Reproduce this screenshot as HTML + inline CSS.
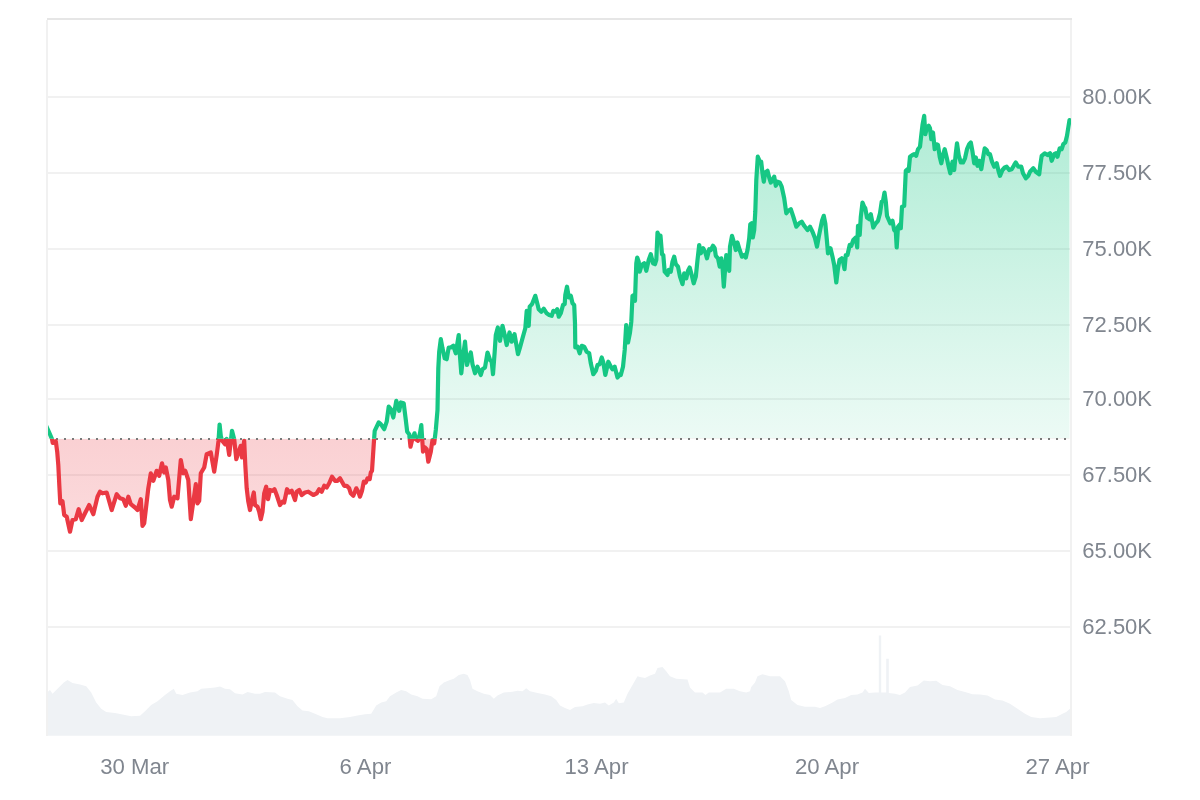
<!DOCTYPE html>
<html lang="en"><head><meta charset="utf-8"><title>Chart</title>
<style>
html,body{margin:0;padding:0;background:#fff;}
body{width:1200px;height:800px;overflow:hidden;font-family:"Liberation Sans",Arial,sans-serif;}
svg{display:block}
.yl{font-family:"Liberation Sans",Arial,sans-serif;font-size:22px;fill:#80868f;}
.xl{font-family:"Liberation Sans",Arial,sans-serif;font-size:22.2px;fill:#80868f;text-anchor:middle;}
</style></head><body>
<svg width="1200" height="800" viewBox="0 0 1200 800">
<defs>
<linearGradient id="gg" gradientUnits="userSpaceOnUse" x1="0" y1="115" x2="0" y2="438.8">
<stop offset="0" stop-color="#16c784" stop-opacity="0.34"/>
<stop offset="1" stop-color="#16c784" stop-opacity="0.08"/>
</linearGradient>
<linearGradient id="rg" gradientUnits="userSpaceOnUse" x1="0" y1="438.8" x2="0" y2="535">
<stop offset="0" stop-color="#ea3943" stop-opacity="0.235"/>
<stop offset="1" stop-color="#ea3943" stop-opacity="0.18"/>
</linearGradient>
<clipPath id="up"><rect x="48" y="48" width="1023" height="390.8"/></clipPath>
<clipPath id="dn"><rect x="48" y="438.8" width="1023" height="400"/></clipPath>
</defs>
<rect width="1200" height="800" fill="#fff"/>
<polygon points="47.0,735.8 47.0,692.5 47.0,692.5 50.0,690.0 52.5,693.8 58.8,687.5 63.8,682.5 67.5,680.0 72.5,683.0 80.0,684.5 86.2,686.2 91.2,692.5 96.2,702.5 101.2,708.8 106.2,712.0 115.0,713.0 122.5,714.5 131.2,716.2 140.0,715.8 145.0,711.2 151.2,705.0 157.5,701.2 165.0,695.0 170.0,691.2 173.8,688.8 176.2,693.8 182.5,695.0 190.0,692.5 197.5,691.2 201.2,688.8 210.0,688.0 215.0,687.5 220.0,686.5 225.0,688.8 230.0,689.2 235.0,693.2 242.5,694.5 247.5,692.0 255.0,693.8 260.0,693.8 265.0,692.0 275.0,692.5 280.0,696.2 287.5,698.8 292.5,700.0 297.5,706.2 302.5,710.5 308.8,711.2 315.0,713.8 322.5,717.0 327.5,718.2 340.0,718.2 350.0,717.0 357.5,715.5 365.0,714.2 371.2,713.8 376.2,705.5 381.2,702.5 386.2,701.2 390.0,696.2 396.2,692.5 401.2,690.0 406.2,691.2 411.2,694.5 417.5,696.2 422.5,698.8 431.2,699.2 436.2,696.2 439.5,686.2 443.8,682.5 450.0,680.0 453.8,678.8 458.8,675.0 463.8,673.8 467.5,675.0 470.0,680.0 472.5,688.8 477.5,691.2 483.8,693.8 490.0,695.0 493.8,698.8 497.5,695.5 503.8,692.5 512.5,691.8 517.5,690.8 522.5,691.2 526.2,688.2 530.0,691.2 537.5,693.0 545.0,694.5 551.2,696.2 556.2,700.0 560.0,705.5 565.0,708.0 570.0,710.0 575.0,707.0 582.5,706.2 587.5,704.5 593.8,703.0 600.0,703.8 605.0,702.5 608.8,705.5 613.8,702.5 616.2,698.8 618.8,703.2 623.8,702.5 627.5,693.8 632.5,685.0 637.5,676.2 640.0,677.0 645.0,678.0 650.0,675.5 655.0,673.8 657.5,668.0 662.5,667.0 666.2,671.2 670.0,676.2 676.2,678.8 687.5,679.5 690.0,687.5 695.0,692.5 702.5,692.5 705.5,695.0 708.8,692.5 720.0,692.5 726.2,688.8 733.8,688.8 740.0,691.2 746.2,692.5 750.0,691.2 751.2,687.0 755.0,682.5 757.5,676.2 762.5,674.2 770.0,676.2 780.0,676.2 785.0,681.2 788.8,691.2 791.2,700.0 797.5,705.0 805.0,706.8 815.0,706.8 820.0,708.0 825.0,706.2 832.5,702.5 837.5,699.5 845.0,698.0 851.2,695.0 857.5,694.5 862.5,692.5 865.0,688.8 868.8,693.0 875.0,692.5 878.8,692.5 878.8,635.5 881.2,635.5 881.2,692.5 886.2,692.5 886.2,658.8 888.8,658.8 888.8,693.0 895.0,693.8 900.0,695.0 905.0,692.5 910.0,687.0 917.5,685.5 923.8,680.5 930.0,681.2 936.2,680.8 942.5,685.0 950.0,686.2 957.5,690.0 965.0,692.0 972.5,694.2 980.0,694.5 987.5,695.5 995.0,699.5 1002.5,700.5 1010.0,703.8 1017.5,708.8 1025.0,713.8 1031.2,717.0 1040.0,718.2 1050.0,717.5 1056.2,717.0 1062.5,713.8 1066.2,712.0 1070.0,708.8 1070.5,708.8 1070.5,735.8" fill="#eff2f5"/>
<rect x="48" y="96" width="1022" height="2" fill="#f1f1f1"/>
<rect x="48" y="172" width="1022" height="2" fill="#f1f1f1"/>
<rect x="48" y="248" width="1022" height="2" fill="#f1f1f1"/>
<rect x="48" y="324" width="1022" height="2" fill="#f1f1f1"/>
<rect x="48" y="398" width="1022" height="2" fill="#f1f1f1"/>
<rect x="48" y="474" width="1022" height="2" fill="#f1f1f1"/>
<rect x="48" y="550" width="1022" height="2" fill="#f1f1f1"/>
<rect x="48" y="626" width="1022" height="2" fill="#f1f1f1"/>
<rect x="47" y="18" width="1025" height="2" fill="#e6e6e6"/>
<rect x="46" y="20" width="2" height="716" fill="#f1f1f1"/>
<rect x="1070" y="20" width="2" height="716" fill="#f1f1f1"/>
<polygon points="46.5,438.8 46.5,426.5 49.0,432.0 52.0,439.0 52.7,443.0 54.0,442.5 55.8,441.3 57.2,451.7 58.3,465.0 59.3,485.0 60.3,503.3 61.3,500.8 62.5,501.3 64.2,515.0 66.7,516.7 70.0,531.7 72.5,520.0 75.8,519.2 78.7,509.2 81.7,520.0 85.0,513.3 89.2,505.0 93.3,514.2 97.5,496.7 100.0,491.7 102.5,493.3 106.7,492.5 111.7,510.0 116.7,494.2 120.0,498.3 123.3,499.2 125.8,505.8 128.3,496.7 130.8,504.2 135.0,507.5 137.5,510.0 140.8,499.2 142.5,525.8 144.2,523.3 148.3,488.3 150.8,473.3 153.3,480.8 156.7,470.8 159.2,475.8 162.0,463.3 164.2,472.5 165.8,467.5 168.3,480.0 170.0,500.0 171.7,506.7 174.2,496.7 177.5,498.3 180.8,460.0 183.3,473.3 185.3,470.8 188.3,480.0 190.8,519.2 193.3,501.7 195.8,484.2 197.5,503.3 199.2,500.8 200.8,473.3 204.2,467.5 206.7,454.2 210.8,452.5 214.2,471.7 216.7,455.0 218.5,441.0 219.6,424.5 220.8,436.0 222.0,440.5 225.0,444.3 226.8,439.0 229.2,455.0 232.0,430.8 234.2,439.2 236.3,459.2 239.2,450.0 240.8,445.8 242.0,457.5 244.2,440.8 245.3,465.0 246.7,488.3 248.3,501.7 250.0,510.0 252.0,500.0 253.8,492.5 255.0,505.0 257.5,506.7 259.2,511.7 260.8,519.2 262.5,511.7 264.2,493.3 266.2,486.7 268.0,499.2 270.0,490.0 272.5,490.8 274.5,489.2 276.7,495.0 280.0,505.0 282.5,501.7 284.2,502.5 287.0,489.2 289.2,492.5 291.7,490.8 295.0,500.0 296.7,491.7 299.2,490.0 301.7,495.0 305.0,492.5 308.3,491.7 313.3,495.0 316.7,493.3 319.2,489.2 321.7,491.7 324.2,485.8 326.7,487.5 329.2,483.3 332.0,476.7 335.0,480.8 337.5,480.8 340.0,478.3 344.2,485.8 346.7,485.8 349.2,488.3 350.8,493.3 353.3,495.8 356.3,488.3 358.3,491.7 360.0,496.7 362.0,490.8 363.8,481.7 365.8,482.5 367.5,478.3 369.7,479.2 370.8,472.5 372.0,470.8 373.7,445.0 374.7,430.8 376.7,426.7 378.7,422.5 380.8,424.2 382.0,425.8 384.2,429.2 386.7,421.7 388.7,406.7 390.8,409.2 393.3,417.5 396.3,400.8 399.2,410.8 400.8,402.5 403.7,403.3 405.8,420.0 407.2,431.7 409.2,434.2 410.5,446.7 412.5,438.3 414.5,433.3 415.8,439.2 418.0,440.8 420.0,433.3 421.3,425.0 423.0,451.7 425.0,447.5 426.7,449.2 428.3,461.7 430.8,451.7 432.5,440.0 434.2,443.3 435.8,430.0 437.5,410.0 438.3,368.3 439.2,351.7 440.8,339.2 442.5,348.3 444.7,358.3 446.7,359.2 448.7,347.5 450.8,347.5 453.3,345.8 455.8,353.3 458.7,335.0 460.0,356.7 461.3,373.3 463.0,356.7 465.0,341.7 467.0,365.0 469.2,356.7 470.8,352.5 472.5,364.2 475.0,373.3 477.5,366.7 480.8,375.0 482.5,369.2 485.0,367.5 487.5,352.5 490.0,360.0 491.7,361.7 493.0,374.2 494.7,351.7 495.8,335.0 497.8,327.5 500.0,340.8 502.5,325.8 504.7,335.0 506.7,345.0 509.5,332.5 511.7,341.7 514.5,334.2 516.7,346.7 518.0,354.2 520.0,347.5 522.5,338.3 525.3,328.3 526.7,310.8 528.7,325.8 529.7,306.7 532.0,304.2 535.3,295.8 537.5,304.2 538.7,309.2 541.3,311.7 543.7,308.7 546.7,313.3 549.2,315.0 551.7,315.8 553.3,310.8 555.3,311.7 557.2,309.2 558.8,316.7 560.8,313.3 563.0,305.0 564.7,304.2 565.3,295.0 567.0,286.7 568.8,297.5 570.8,295.8 572.5,303.3 574.2,305.0 575.0,323.3 575.3,347.5 577.5,346.7 579.7,353.3 581.7,345.8 584.2,346.7 586.7,351.7 589.2,353.3 590.8,363.3 593.3,374.2 595.8,370.8 597.5,365.0 599.7,364.2 601.7,357.5 603.3,362.5 605.3,375.0 608.3,361.7 610.8,366.7 612.5,369.2 614.7,366.7 617.5,377.5 620.0,374.2 620.8,375.0 623.0,366.7 624.7,350.0 626.2,325.0 628.0,342.5 630.0,332.5 631.3,321.7 632.5,295.8 634.2,295.0 635.0,300.8 635.8,276.7 636.3,263.3 637.2,257.5 638.7,261.7 639.7,271.7 641.7,265.0 644.2,263.3 646.3,270.8 648.7,260.0 650.8,254.2 653.0,263.3 655.0,264.2 656.3,260.0 657.5,232.5 659.2,236.7 660.5,235.8 662.0,254.2 663.3,255.0 664.7,271.7 667.5,275.0 668.7,270.0 670.8,271.7 672.5,261.7 674.2,256.7 675.8,264.2 678.0,266.7 680.0,276.7 682.5,284.2 684.2,273.3 686.3,278.3 688.0,270.8 689.7,267.5 691.7,275.0 693.7,283.3 695.8,276.7 697.5,260.0 699.2,245.0 700.8,253.3 703.3,248.3 705.3,252.5 707.0,258.3 709.2,249.2 710.8,250.0 713.0,245.8 714.7,248.3 715.8,255.8 718.0,258.3 719.7,266.7 721.3,258.3 722.5,266.7 723.8,286.7 725.3,266.7 726.3,255.0 728.0,260.0 729.2,270.8 730.0,246.7 732.0,235.8 734.2,243.3 735.8,250.0 737.5,242.5 739.7,250.0 742.0,256.7 744.2,255.0 745.8,257.5 747.5,250.0 749.2,238.3 750.3,224.2 751.7,223.3 752.8,237.5 754.2,230.0 755.3,211.7 756.3,180.0 757.8,156.7 759.5,160.8 761.2,161.7 762.5,173.3 763.8,181.7 765.3,172.5 767.5,170.8 769.2,177.5 770.8,182.5 773.0,179.2 774.2,176.7 775.8,185.8 777.5,181.7 779.7,182.5 781.7,186.7 784.2,198.3 786.3,213.3 788.3,210.8 790.8,209.2 793.3,216.7 796.3,226.7 799.2,223.3 801.7,221.7 804.2,225.8 807.5,230.0 810.0,226.7 812.5,231.7 815.0,238.3 817.0,246.7 818.8,236.7 820.3,229.2 822.0,220.8 823.8,215.8 825.3,223.3 826.7,238.3 828.0,253.3 830.5,248.3 832.5,256.7 834.2,265.0 836.3,282.5 838.0,268.3 839.5,260.0 841.7,258.3 843.0,261.7 844.5,269.2 845.8,255.0 847.5,255.0 849.7,245.0 851.3,245.8 853.3,240.0 855.8,237.5 857.2,247.5 858.0,225.8 859.7,235.0 860.8,216.7 862.5,202.5 864.2,206.7 865.3,208.3 867.0,217.5 869.2,219.2 870.8,214.2 873.3,227.5 875.8,223.3 878.0,220.8 880.0,213.3 881.7,201.7 883.0,200.8 884.5,192.5 885.8,201.7 887.0,215.8 889.2,220.8 890.3,223.3 892.5,220.8 894.2,230.0 895.8,231.7 896.7,247.5 898.0,226.7 900.0,224.2 900.8,228.3 902.0,206.7 904.2,205.8 905.8,170.8 907.5,169.2 908.7,170.8 910.0,156.7 912.5,155.0 914.2,154.2 916.2,155.8 918.0,149.2 920.0,146.7 921.3,135.0 922.5,125.0 924.2,115.8 925.3,134.2 927.0,127.5 928.7,125.8 930.0,128.3 931.3,139.2 933.0,132.5 934.7,149.2 936.3,144.2 938.0,145.0 939.7,156.7 941.3,163.3 943.0,155.0 944.7,149.2 946.7,157.5 948.7,166.7 950.3,173.3 952.5,161.7 954.2,170.0 955.8,153.3 957.0,143.3 958.7,155.0 960.8,162.5 963.0,162.5 965.0,158.3 967.0,149.2 969.2,144.2 970.8,142.5 972.5,151.7 974.2,163.3 975.8,157.5 977.5,165.8 979.2,160.8 981.3,169.2 983.0,158.3 984.7,148.3 986.7,150.0 988.3,154.2 990.0,154.2 992.0,161.7 994.2,166.7 996.7,163.3 998.7,171.7 1000.0,175.8 1002.5,170.0 1004.7,167.5 1006.7,166.7 1009.2,170.0 1011.7,169.2 1014.2,165.0 1015.8,162.5 1018.3,166.7 1021.3,166.7 1023.0,173.3 1025.8,178.3 1028.3,175.8 1030.0,171.7 1033.3,168.3 1035.8,171.7 1039.2,174.2 1040.3,165.0 1041.7,155.8 1044.7,153.3 1047.5,155.0 1050.0,153.3 1051.7,160.8 1054.2,154.2 1055.8,153.3 1057.5,156.7 1059.7,148.3 1061.7,149.2 1063.3,144.2 1065.3,142.5 1067.0,135.8 1068.3,127.5 1069.5,120.0 1069.5,438.8" fill="url(#gg)" clip-path="url(#up)"/>
<polygon points="46.5,438.8 46.5,426.5 49.0,432.0 52.0,439.0 52.7,443.0 54.0,442.5 55.8,441.3 57.2,451.7 58.3,465.0 59.3,485.0 60.3,503.3 61.3,500.8 62.5,501.3 64.2,515.0 66.7,516.7 70.0,531.7 72.5,520.0 75.8,519.2 78.7,509.2 81.7,520.0 85.0,513.3 89.2,505.0 93.3,514.2 97.5,496.7 100.0,491.7 102.5,493.3 106.7,492.5 111.7,510.0 116.7,494.2 120.0,498.3 123.3,499.2 125.8,505.8 128.3,496.7 130.8,504.2 135.0,507.5 137.5,510.0 140.8,499.2 142.5,525.8 144.2,523.3 148.3,488.3 150.8,473.3 153.3,480.8 156.7,470.8 159.2,475.8 162.0,463.3 164.2,472.5 165.8,467.5 168.3,480.0 170.0,500.0 171.7,506.7 174.2,496.7 177.5,498.3 180.8,460.0 183.3,473.3 185.3,470.8 188.3,480.0 190.8,519.2 193.3,501.7 195.8,484.2 197.5,503.3 199.2,500.8 200.8,473.3 204.2,467.5 206.7,454.2 210.8,452.5 214.2,471.7 216.7,455.0 218.5,441.0 219.6,424.5 220.8,436.0 222.0,440.5 225.0,444.3 226.8,439.0 229.2,455.0 232.0,430.8 234.2,439.2 236.3,459.2 239.2,450.0 240.8,445.8 242.0,457.5 244.2,440.8 245.3,465.0 246.7,488.3 248.3,501.7 250.0,510.0 252.0,500.0 253.8,492.5 255.0,505.0 257.5,506.7 259.2,511.7 260.8,519.2 262.5,511.7 264.2,493.3 266.2,486.7 268.0,499.2 270.0,490.0 272.5,490.8 274.5,489.2 276.7,495.0 280.0,505.0 282.5,501.7 284.2,502.5 287.0,489.2 289.2,492.5 291.7,490.8 295.0,500.0 296.7,491.7 299.2,490.0 301.7,495.0 305.0,492.5 308.3,491.7 313.3,495.0 316.7,493.3 319.2,489.2 321.7,491.7 324.2,485.8 326.7,487.5 329.2,483.3 332.0,476.7 335.0,480.8 337.5,480.8 340.0,478.3 344.2,485.8 346.7,485.8 349.2,488.3 350.8,493.3 353.3,495.8 356.3,488.3 358.3,491.7 360.0,496.7 362.0,490.8 363.8,481.7 365.8,482.5 367.5,478.3 369.7,479.2 370.8,472.5 372.0,470.8 373.7,445.0 374.7,430.8 376.7,426.7 378.7,422.5 380.8,424.2 382.0,425.8 384.2,429.2 386.7,421.7 388.7,406.7 390.8,409.2 393.3,417.5 396.3,400.8 399.2,410.8 400.8,402.5 403.7,403.3 405.8,420.0 407.2,431.7 409.2,434.2 410.5,446.7 412.5,438.3 414.5,433.3 415.8,439.2 418.0,440.8 420.0,433.3 421.3,425.0 423.0,451.7 425.0,447.5 426.7,449.2 428.3,461.7 430.8,451.7 432.5,440.0 434.2,443.3 435.8,430.0 437.5,410.0 438.3,368.3 439.2,351.7 440.8,339.2 442.5,348.3 444.7,358.3 446.7,359.2 448.7,347.5 450.8,347.5 453.3,345.8 455.8,353.3 458.7,335.0 460.0,356.7 461.3,373.3 463.0,356.7 465.0,341.7 467.0,365.0 469.2,356.7 470.8,352.5 472.5,364.2 475.0,373.3 477.5,366.7 480.8,375.0 482.5,369.2 485.0,367.5 487.5,352.5 490.0,360.0 491.7,361.7 493.0,374.2 494.7,351.7 495.8,335.0 497.8,327.5 500.0,340.8 502.5,325.8 504.7,335.0 506.7,345.0 509.5,332.5 511.7,341.7 514.5,334.2 516.7,346.7 518.0,354.2 520.0,347.5 522.5,338.3 525.3,328.3 526.7,310.8 528.7,325.8 529.7,306.7 532.0,304.2 535.3,295.8 537.5,304.2 538.7,309.2 541.3,311.7 543.7,308.7 546.7,313.3 549.2,315.0 551.7,315.8 553.3,310.8 555.3,311.7 557.2,309.2 558.8,316.7 560.8,313.3 563.0,305.0 564.7,304.2 565.3,295.0 567.0,286.7 568.8,297.5 570.8,295.8 572.5,303.3 574.2,305.0 575.0,323.3 575.3,347.5 577.5,346.7 579.7,353.3 581.7,345.8 584.2,346.7 586.7,351.7 589.2,353.3 590.8,363.3 593.3,374.2 595.8,370.8 597.5,365.0 599.7,364.2 601.7,357.5 603.3,362.5 605.3,375.0 608.3,361.7 610.8,366.7 612.5,369.2 614.7,366.7 617.5,377.5 620.0,374.2 620.8,375.0 623.0,366.7 624.7,350.0 626.2,325.0 628.0,342.5 630.0,332.5 631.3,321.7 632.5,295.8 634.2,295.0 635.0,300.8 635.8,276.7 636.3,263.3 637.2,257.5 638.7,261.7 639.7,271.7 641.7,265.0 644.2,263.3 646.3,270.8 648.7,260.0 650.8,254.2 653.0,263.3 655.0,264.2 656.3,260.0 657.5,232.5 659.2,236.7 660.5,235.8 662.0,254.2 663.3,255.0 664.7,271.7 667.5,275.0 668.7,270.0 670.8,271.7 672.5,261.7 674.2,256.7 675.8,264.2 678.0,266.7 680.0,276.7 682.5,284.2 684.2,273.3 686.3,278.3 688.0,270.8 689.7,267.5 691.7,275.0 693.7,283.3 695.8,276.7 697.5,260.0 699.2,245.0 700.8,253.3 703.3,248.3 705.3,252.5 707.0,258.3 709.2,249.2 710.8,250.0 713.0,245.8 714.7,248.3 715.8,255.8 718.0,258.3 719.7,266.7 721.3,258.3 722.5,266.7 723.8,286.7 725.3,266.7 726.3,255.0 728.0,260.0 729.2,270.8 730.0,246.7 732.0,235.8 734.2,243.3 735.8,250.0 737.5,242.5 739.7,250.0 742.0,256.7 744.2,255.0 745.8,257.5 747.5,250.0 749.2,238.3 750.3,224.2 751.7,223.3 752.8,237.5 754.2,230.0 755.3,211.7 756.3,180.0 757.8,156.7 759.5,160.8 761.2,161.7 762.5,173.3 763.8,181.7 765.3,172.5 767.5,170.8 769.2,177.5 770.8,182.5 773.0,179.2 774.2,176.7 775.8,185.8 777.5,181.7 779.7,182.5 781.7,186.7 784.2,198.3 786.3,213.3 788.3,210.8 790.8,209.2 793.3,216.7 796.3,226.7 799.2,223.3 801.7,221.7 804.2,225.8 807.5,230.0 810.0,226.7 812.5,231.7 815.0,238.3 817.0,246.7 818.8,236.7 820.3,229.2 822.0,220.8 823.8,215.8 825.3,223.3 826.7,238.3 828.0,253.3 830.5,248.3 832.5,256.7 834.2,265.0 836.3,282.5 838.0,268.3 839.5,260.0 841.7,258.3 843.0,261.7 844.5,269.2 845.8,255.0 847.5,255.0 849.7,245.0 851.3,245.8 853.3,240.0 855.8,237.5 857.2,247.5 858.0,225.8 859.7,235.0 860.8,216.7 862.5,202.5 864.2,206.7 865.3,208.3 867.0,217.5 869.2,219.2 870.8,214.2 873.3,227.5 875.8,223.3 878.0,220.8 880.0,213.3 881.7,201.7 883.0,200.8 884.5,192.5 885.8,201.7 887.0,215.8 889.2,220.8 890.3,223.3 892.5,220.8 894.2,230.0 895.8,231.7 896.7,247.5 898.0,226.7 900.0,224.2 900.8,228.3 902.0,206.7 904.2,205.8 905.8,170.8 907.5,169.2 908.7,170.8 910.0,156.7 912.5,155.0 914.2,154.2 916.2,155.8 918.0,149.2 920.0,146.7 921.3,135.0 922.5,125.0 924.2,115.8 925.3,134.2 927.0,127.5 928.7,125.8 930.0,128.3 931.3,139.2 933.0,132.5 934.7,149.2 936.3,144.2 938.0,145.0 939.7,156.7 941.3,163.3 943.0,155.0 944.7,149.2 946.7,157.5 948.7,166.7 950.3,173.3 952.5,161.7 954.2,170.0 955.8,153.3 957.0,143.3 958.7,155.0 960.8,162.5 963.0,162.5 965.0,158.3 967.0,149.2 969.2,144.2 970.8,142.5 972.5,151.7 974.2,163.3 975.8,157.5 977.5,165.8 979.2,160.8 981.3,169.2 983.0,158.3 984.7,148.3 986.7,150.0 988.3,154.2 990.0,154.2 992.0,161.7 994.2,166.7 996.7,163.3 998.7,171.7 1000.0,175.8 1002.5,170.0 1004.7,167.5 1006.7,166.7 1009.2,170.0 1011.7,169.2 1014.2,165.0 1015.8,162.5 1018.3,166.7 1021.3,166.7 1023.0,173.3 1025.8,178.3 1028.3,175.8 1030.0,171.7 1033.3,168.3 1035.8,171.7 1039.2,174.2 1040.3,165.0 1041.7,155.8 1044.7,153.3 1047.5,155.0 1050.0,153.3 1051.7,160.8 1054.2,154.2 1055.8,153.3 1057.5,156.7 1059.7,148.3 1061.7,149.2 1063.3,144.2 1065.3,142.5 1067.0,135.8 1068.3,127.5 1069.5,120.0 1069.5,438.8" fill="url(#rg)" clip-path="url(#dn)"/>
<line x1="56" x2="1070.0" y1="439" y2="439" stroke="#7a7a7a" stroke-width="2" stroke-dasharray="2 6"/>
<polyline points="46.5,426.5 49.0,432.0 52.0,439.0 52.7,443.0 54.0,442.5 55.8,441.3 57.2,451.7 58.3,465.0 59.3,485.0 60.3,503.3 61.3,500.8 62.5,501.3 64.2,515.0 66.7,516.7 70.0,531.7 72.5,520.0 75.8,519.2 78.7,509.2 81.7,520.0 85.0,513.3 89.2,505.0 93.3,514.2 97.5,496.7 100.0,491.7 102.5,493.3 106.7,492.5 111.7,510.0 116.7,494.2 120.0,498.3 123.3,499.2 125.8,505.8 128.3,496.7 130.8,504.2 135.0,507.5 137.5,510.0 140.8,499.2 142.5,525.8 144.2,523.3 148.3,488.3 150.8,473.3 153.3,480.8 156.7,470.8 159.2,475.8 162.0,463.3 164.2,472.5 165.8,467.5 168.3,480.0 170.0,500.0 171.7,506.7 174.2,496.7 177.5,498.3 180.8,460.0 183.3,473.3 185.3,470.8 188.3,480.0 190.8,519.2 193.3,501.7 195.8,484.2 197.5,503.3 199.2,500.8 200.8,473.3 204.2,467.5 206.7,454.2 210.8,452.5 214.2,471.7 216.7,455.0 218.5,441.0 219.6,424.5 220.8,436.0 222.0,440.5 225.0,444.3 226.8,439.0 229.2,455.0 232.0,430.8 234.2,439.2 236.3,459.2 239.2,450.0 240.8,445.8 242.0,457.5 244.2,440.8 245.3,465.0 246.7,488.3 248.3,501.7 250.0,510.0 252.0,500.0 253.8,492.5 255.0,505.0 257.5,506.7 259.2,511.7 260.8,519.2 262.5,511.7 264.2,493.3 266.2,486.7 268.0,499.2 270.0,490.0 272.5,490.8 274.5,489.2 276.7,495.0 280.0,505.0 282.5,501.7 284.2,502.5 287.0,489.2 289.2,492.5 291.7,490.8 295.0,500.0 296.7,491.7 299.2,490.0 301.7,495.0 305.0,492.5 308.3,491.7 313.3,495.0 316.7,493.3 319.2,489.2 321.7,491.7 324.2,485.8 326.7,487.5 329.2,483.3 332.0,476.7 335.0,480.8 337.5,480.8 340.0,478.3 344.2,485.8 346.7,485.8 349.2,488.3 350.8,493.3 353.3,495.8 356.3,488.3 358.3,491.7 360.0,496.7 362.0,490.8 363.8,481.7 365.8,482.5 367.5,478.3 369.7,479.2 370.8,472.5 372.0,470.8 373.7,445.0 374.7,430.8 376.7,426.7 378.7,422.5 380.8,424.2 382.0,425.8 384.2,429.2 386.7,421.7 388.7,406.7 390.8,409.2 393.3,417.5 396.3,400.8 399.2,410.8 400.8,402.5 403.7,403.3 405.8,420.0 407.2,431.7 409.2,434.2 410.5,446.7 412.5,438.3 414.5,433.3 415.8,439.2 418.0,440.8 420.0,433.3 421.3,425.0 423.0,451.7 425.0,447.5 426.7,449.2 428.3,461.7 430.8,451.7 432.5,440.0 434.2,443.3 435.8,430.0 437.5,410.0 438.3,368.3 439.2,351.7 440.8,339.2 442.5,348.3 444.7,358.3 446.7,359.2 448.7,347.5 450.8,347.5 453.3,345.8 455.8,353.3 458.7,335.0 460.0,356.7 461.3,373.3 463.0,356.7 465.0,341.7 467.0,365.0 469.2,356.7 470.8,352.5 472.5,364.2 475.0,373.3 477.5,366.7 480.8,375.0 482.5,369.2 485.0,367.5 487.5,352.5 490.0,360.0 491.7,361.7 493.0,374.2 494.7,351.7 495.8,335.0 497.8,327.5 500.0,340.8 502.5,325.8 504.7,335.0 506.7,345.0 509.5,332.5 511.7,341.7 514.5,334.2 516.7,346.7 518.0,354.2 520.0,347.5 522.5,338.3 525.3,328.3 526.7,310.8 528.7,325.8 529.7,306.7 532.0,304.2 535.3,295.8 537.5,304.2 538.7,309.2 541.3,311.7 543.7,308.7 546.7,313.3 549.2,315.0 551.7,315.8 553.3,310.8 555.3,311.7 557.2,309.2 558.8,316.7 560.8,313.3 563.0,305.0 564.7,304.2 565.3,295.0 567.0,286.7 568.8,297.5 570.8,295.8 572.5,303.3 574.2,305.0 575.0,323.3 575.3,347.5 577.5,346.7 579.7,353.3 581.7,345.8 584.2,346.7 586.7,351.7 589.2,353.3 590.8,363.3 593.3,374.2 595.8,370.8 597.5,365.0 599.7,364.2 601.7,357.5 603.3,362.5 605.3,375.0 608.3,361.7 610.8,366.7 612.5,369.2 614.7,366.7 617.5,377.5 620.0,374.2 620.8,375.0 623.0,366.7 624.7,350.0 626.2,325.0 628.0,342.5 630.0,332.5 631.3,321.7 632.5,295.8 634.2,295.0 635.0,300.8 635.8,276.7 636.3,263.3 637.2,257.5 638.7,261.7 639.7,271.7 641.7,265.0 644.2,263.3 646.3,270.8 648.7,260.0 650.8,254.2 653.0,263.3 655.0,264.2 656.3,260.0 657.5,232.5 659.2,236.7 660.5,235.8 662.0,254.2 663.3,255.0 664.7,271.7 667.5,275.0 668.7,270.0 670.8,271.7 672.5,261.7 674.2,256.7 675.8,264.2 678.0,266.7 680.0,276.7 682.5,284.2 684.2,273.3 686.3,278.3 688.0,270.8 689.7,267.5 691.7,275.0 693.7,283.3 695.8,276.7 697.5,260.0 699.2,245.0 700.8,253.3 703.3,248.3 705.3,252.5 707.0,258.3 709.2,249.2 710.8,250.0 713.0,245.8 714.7,248.3 715.8,255.8 718.0,258.3 719.7,266.7 721.3,258.3 722.5,266.7 723.8,286.7 725.3,266.7 726.3,255.0 728.0,260.0 729.2,270.8 730.0,246.7 732.0,235.8 734.2,243.3 735.8,250.0 737.5,242.5 739.7,250.0 742.0,256.7 744.2,255.0 745.8,257.5 747.5,250.0 749.2,238.3 750.3,224.2 751.7,223.3 752.8,237.5 754.2,230.0 755.3,211.7 756.3,180.0 757.8,156.7 759.5,160.8 761.2,161.7 762.5,173.3 763.8,181.7 765.3,172.5 767.5,170.8 769.2,177.5 770.8,182.5 773.0,179.2 774.2,176.7 775.8,185.8 777.5,181.7 779.7,182.5 781.7,186.7 784.2,198.3 786.3,213.3 788.3,210.8 790.8,209.2 793.3,216.7 796.3,226.7 799.2,223.3 801.7,221.7 804.2,225.8 807.5,230.0 810.0,226.7 812.5,231.7 815.0,238.3 817.0,246.7 818.8,236.7 820.3,229.2 822.0,220.8 823.8,215.8 825.3,223.3 826.7,238.3 828.0,253.3 830.5,248.3 832.5,256.7 834.2,265.0 836.3,282.5 838.0,268.3 839.5,260.0 841.7,258.3 843.0,261.7 844.5,269.2 845.8,255.0 847.5,255.0 849.7,245.0 851.3,245.8 853.3,240.0 855.8,237.5 857.2,247.5 858.0,225.8 859.7,235.0 860.8,216.7 862.5,202.5 864.2,206.7 865.3,208.3 867.0,217.5 869.2,219.2 870.8,214.2 873.3,227.5 875.8,223.3 878.0,220.8 880.0,213.3 881.7,201.7 883.0,200.8 884.5,192.5 885.8,201.7 887.0,215.8 889.2,220.8 890.3,223.3 892.5,220.8 894.2,230.0 895.8,231.7 896.7,247.5 898.0,226.7 900.0,224.2 900.8,228.3 902.0,206.7 904.2,205.8 905.8,170.8 907.5,169.2 908.7,170.8 910.0,156.7 912.5,155.0 914.2,154.2 916.2,155.8 918.0,149.2 920.0,146.7 921.3,135.0 922.5,125.0 924.2,115.8 925.3,134.2 927.0,127.5 928.7,125.8 930.0,128.3 931.3,139.2 933.0,132.5 934.7,149.2 936.3,144.2 938.0,145.0 939.7,156.7 941.3,163.3 943.0,155.0 944.7,149.2 946.7,157.5 948.7,166.7 950.3,173.3 952.5,161.7 954.2,170.0 955.8,153.3 957.0,143.3 958.7,155.0 960.8,162.5 963.0,162.5 965.0,158.3 967.0,149.2 969.2,144.2 970.8,142.5 972.5,151.7 974.2,163.3 975.8,157.5 977.5,165.8 979.2,160.8 981.3,169.2 983.0,158.3 984.7,148.3 986.7,150.0 988.3,154.2 990.0,154.2 992.0,161.7 994.2,166.7 996.7,163.3 998.7,171.7 1000.0,175.8 1002.5,170.0 1004.7,167.5 1006.7,166.7 1009.2,170.0 1011.7,169.2 1014.2,165.0 1015.8,162.5 1018.3,166.7 1021.3,166.7 1023.0,173.3 1025.8,178.3 1028.3,175.8 1030.0,171.7 1033.3,168.3 1035.8,171.7 1039.2,174.2 1040.3,165.0 1041.7,155.8 1044.7,153.3 1047.5,155.0 1050.0,153.3 1051.7,160.8 1054.2,154.2 1055.8,153.3 1057.5,156.7 1059.7,148.3 1061.7,149.2 1063.3,144.2 1065.3,142.5 1067.0,135.8 1068.3,127.5 1069.5,120.0" fill="none" stroke="#ea3943" stroke-width="4.2" stroke-linejoin="round" stroke-linecap="round" clip-path="url(#dn)"/>
<polyline points="46.5,426.5 49.0,432.0 52.0,439.0 52.7,443.0 54.0,442.5 55.8,441.3 57.2,451.7 58.3,465.0 59.3,485.0 60.3,503.3 61.3,500.8 62.5,501.3 64.2,515.0 66.7,516.7 70.0,531.7 72.5,520.0 75.8,519.2 78.7,509.2 81.7,520.0 85.0,513.3 89.2,505.0 93.3,514.2 97.5,496.7 100.0,491.7 102.5,493.3 106.7,492.5 111.7,510.0 116.7,494.2 120.0,498.3 123.3,499.2 125.8,505.8 128.3,496.7 130.8,504.2 135.0,507.5 137.5,510.0 140.8,499.2 142.5,525.8 144.2,523.3 148.3,488.3 150.8,473.3 153.3,480.8 156.7,470.8 159.2,475.8 162.0,463.3 164.2,472.5 165.8,467.5 168.3,480.0 170.0,500.0 171.7,506.7 174.2,496.7 177.5,498.3 180.8,460.0 183.3,473.3 185.3,470.8 188.3,480.0 190.8,519.2 193.3,501.7 195.8,484.2 197.5,503.3 199.2,500.8 200.8,473.3 204.2,467.5 206.7,454.2 210.8,452.5 214.2,471.7 216.7,455.0 218.5,441.0 219.6,424.5 220.8,436.0 222.0,440.5 225.0,444.3 226.8,439.0 229.2,455.0 232.0,430.8 234.2,439.2 236.3,459.2 239.2,450.0 240.8,445.8 242.0,457.5 244.2,440.8 245.3,465.0 246.7,488.3 248.3,501.7 250.0,510.0 252.0,500.0 253.8,492.5 255.0,505.0 257.5,506.7 259.2,511.7 260.8,519.2 262.5,511.7 264.2,493.3 266.2,486.7 268.0,499.2 270.0,490.0 272.5,490.8 274.5,489.2 276.7,495.0 280.0,505.0 282.5,501.7 284.2,502.5 287.0,489.2 289.2,492.5 291.7,490.8 295.0,500.0 296.7,491.7 299.2,490.0 301.7,495.0 305.0,492.5 308.3,491.7 313.3,495.0 316.7,493.3 319.2,489.2 321.7,491.7 324.2,485.8 326.7,487.5 329.2,483.3 332.0,476.7 335.0,480.8 337.5,480.8 340.0,478.3 344.2,485.8 346.7,485.8 349.2,488.3 350.8,493.3 353.3,495.8 356.3,488.3 358.3,491.7 360.0,496.7 362.0,490.8 363.8,481.7 365.8,482.5 367.5,478.3 369.7,479.2 370.8,472.5 372.0,470.8 373.7,445.0 374.7,430.8 376.7,426.7 378.7,422.5 380.8,424.2 382.0,425.8 384.2,429.2 386.7,421.7 388.7,406.7 390.8,409.2 393.3,417.5 396.3,400.8 399.2,410.8 400.8,402.5 403.7,403.3 405.8,420.0 407.2,431.7 409.2,434.2 410.5,446.7 412.5,438.3 414.5,433.3 415.8,439.2 418.0,440.8 420.0,433.3 421.3,425.0 423.0,451.7 425.0,447.5 426.7,449.2 428.3,461.7 430.8,451.7 432.5,440.0 434.2,443.3 435.8,430.0 437.5,410.0 438.3,368.3 439.2,351.7 440.8,339.2 442.5,348.3 444.7,358.3 446.7,359.2 448.7,347.5 450.8,347.5 453.3,345.8 455.8,353.3 458.7,335.0 460.0,356.7 461.3,373.3 463.0,356.7 465.0,341.7 467.0,365.0 469.2,356.7 470.8,352.5 472.5,364.2 475.0,373.3 477.5,366.7 480.8,375.0 482.5,369.2 485.0,367.5 487.5,352.5 490.0,360.0 491.7,361.7 493.0,374.2 494.7,351.7 495.8,335.0 497.8,327.5 500.0,340.8 502.5,325.8 504.7,335.0 506.7,345.0 509.5,332.5 511.7,341.7 514.5,334.2 516.7,346.7 518.0,354.2 520.0,347.5 522.5,338.3 525.3,328.3 526.7,310.8 528.7,325.8 529.7,306.7 532.0,304.2 535.3,295.8 537.5,304.2 538.7,309.2 541.3,311.7 543.7,308.7 546.7,313.3 549.2,315.0 551.7,315.8 553.3,310.8 555.3,311.7 557.2,309.2 558.8,316.7 560.8,313.3 563.0,305.0 564.7,304.2 565.3,295.0 567.0,286.7 568.8,297.5 570.8,295.8 572.5,303.3 574.2,305.0 575.0,323.3 575.3,347.5 577.5,346.7 579.7,353.3 581.7,345.8 584.2,346.7 586.7,351.7 589.2,353.3 590.8,363.3 593.3,374.2 595.8,370.8 597.5,365.0 599.7,364.2 601.7,357.5 603.3,362.5 605.3,375.0 608.3,361.7 610.8,366.7 612.5,369.2 614.7,366.7 617.5,377.5 620.0,374.2 620.8,375.0 623.0,366.7 624.7,350.0 626.2,325.0 628.0,342.5 630.0,332.5 631.3,321.7 632.5,295.8 634.2,295.0 635.0,300.8 635.8,276.7 636.3,263.3 637.2,257.5 638.7,261.7 639.7,271.7 641.7,265.0 644.2,263.3 646.3,270.8 648.7,260.0 650.8,254.2 653.0,263.3 655.0,264.2 656.3,260.0 657.5,232.5 659.2,236.7 660.5,235.8 662.0,254.2 663.3,255.0 664.7,271.7 667.5,275.0 668.7,270.0 670.8,271.7 672.5,261.7 674.2,256.7 675.8,264.2 678.0,266.7 680.0,276.7 682.5,284.2 684.2,273.3 686.3,278.3 688.0,270.8 689.7,267.5 691.7,275.0 693.7,283.3 695.8,276.7 697.5,260.0 699.2,245.0 700.8,253.3 703.3,248.3 705.3,252.5 707.0,258.3 709.2,249.2 710.8,250.0 713.0,245.8 714.7,248.3 715.8,255.8 718.0,258.3 719.7,266.7 721.3,258.3 722.5,266.7 723.8,286.7 725.3,266.7 726.3,255.0 728.0,260.0 729.2,270.8 730.0,246.7 732.0,235.8 734.2,243.3 735.8,250.0 737.5,242.5 739.7,250.0 742.0,256.7 744.2,255.0 745.8,257.5 747.5,250.0 749.2,238.3 750.3,224.2 751.7,223.3 752.8,237.5 754.2,230.0 755.3,211.7 756.3,180.0 757.8,156.7 759.5,160.8 761.2,161.7 762.5,173.3 763.8,181.7 765.3,172.5 767.5,170.8 769.2,177.5 770.8,182.5 773.0,179.2 774.2,176.7 775.8,185.8 777.5,181.7 779.7,182.5 781.7,186.7 784.2,198.3 786.3,213.3 788.3,210.8 790.8,209.2 793.3,216.7 796.3,226.7 799.2,223.3 801.7,221.7 804.2,225.8 807.5,230.0 810.0,226.7 812.5,231.7 815.0,238.3 817.0,246.7 818.8,236.7 820.3,229.2 822.0,220.8 823.8,215.8 825.3,223.3 826.7,238.3 828.0,253.3 830.5,248.3 832.5,256.7 834.2,265.0 836.3,282.5 838.0,268.3 839.5,260.0 841.7,258.3 843.0,261.7 844.5,269.2 845.8,255.0 847.5,255.0 849.7,245.0 851.3,245.8 853.3,240.0 855.8,237.5 857.2,247.5 858.0,225.8 859.7,235.0 860.8,216.7 862.5,202.5 864.2,206.7 865.3,208.3 867.0,217.5 869.2,219.2 870.8,214.2 873.3,227.5 875.8,223.3 878.0,220.8 880.0,213.3 881.7,201.7 883.0,200.8 884.5,192.5 885.8,201.7 887.0,215.8 889.2,220.8 890.3,223.3 892.5,220.8 894.2,230.0 895.8,231.7 896.7,247.5 898.0,226.7 900.0,224.2 900.8,228.3 902.0,206.7 904.2,205.8 905.8,170.8 907.5,169.2 908.7,170.8 910.0,156.7 912.5,155.0 914.2,154.2 916.2,155.8 918.0,149.2 920.0,146.7 921.3,135.0 922.5,125.0 924.2,115.8 925.3,134.2 927.0,127.5 928.7,125.8 930.0,128.3 931.3,139.2 933.0,132.5 934.7,149.2 936.3,144.2 938.0,145.0 939.7,156.7 941.3,163.3 943.0,155.0 944.7,149.2 946.7,157.5 948.7,166.7 950.3,173.3 952.5,161.7 954.2,170.0 955.8,153.3 957.0,143.3 958.7,155.0 960.8,162.5 963.0,162.5 965.0,158.3 967.0,149.2 969.2,144.2 970.8,142.5 972.5,151.7 974.2,163.3 975.8,157.5 977.5,165.8 979.2,160.8 981.3,169.2 983.0,158.3 984.7,148.3 986.7,150.0 988.3,154.2 990.0,154.2 992.0,161.7 994.2,166.7 996.7,163.3 998.7,171.7 1000.0,175.8 1002.5,170.0 1004.7,167.5 1006.7,166.7 1009.2,170.0 1011.7,169.2 1014.2,165.0 1015.8,162.5 1018.3,166.7 1021.3,166.7 1023.0,173.3 1025.8,178.3 1028.3,175.8 1030.0,171.7 1033.3,168.3 1035.8,171.7 1039.2,174.2 1040.3,165.0 1041.7,155.8 1044.7,153.3 1047.5,155.0 1050.0,153.3 1051.7,160.8 1054.2,154.2 1055.8,153.3 1057.5,156.7 1059.7,148.3 1061.7,149.2 1063.3,144.2 1065.3,142.5 1067.0,135.8 1068.3,127.5 1069.5,120.0" fill="none" stroke="#16c784" stroke-width="4.2" stroke-linejoin="round" stroke-linecap="round" clip-path="url(#up)"/>
<text class="yl" transform="translate(1082.3,104.0) scale(1,1.03)">80.00K</text>
<text class="yl" transform="translate(1082.3,180.0) scale(1,1.03)">77.50K</text>
<text class="yl" transform="translate(1082.3,256.0) scale(1,1.03)">75.00K</text>
<text class="yl" transform="translate(1082.3,332.0) scale(1,1.03)">72.50K</text>
<text class="yl" transform="translate(1082.3,406.0) scale(1,1.03)">70.00K</text>
<text class="yl" transform="translate(1082.3,482.0) scale(1,1.03)">67.50K</text>
<text class="yl" transform="translate(1082.3,558.0) scale(1,1.03)">65.00K</text>
<text class="yl" transform="translate(1082.3,634.0) scale(1,1.03)">62.50K</text>
<text class="xl" x="134.7" y="773.8">30 Mar</text>
<text class="xl" x="365.5" y="773.8">6 Apr</text>
<text class="xl" x="596.5" y="773.8">13 Apr</text>
<text class="xl" x="827" y="773.8">20 Apr</text>
<text class="xl" x="1057.5" y="773.8">27 Apr</text>
</svg>
</body></html>
